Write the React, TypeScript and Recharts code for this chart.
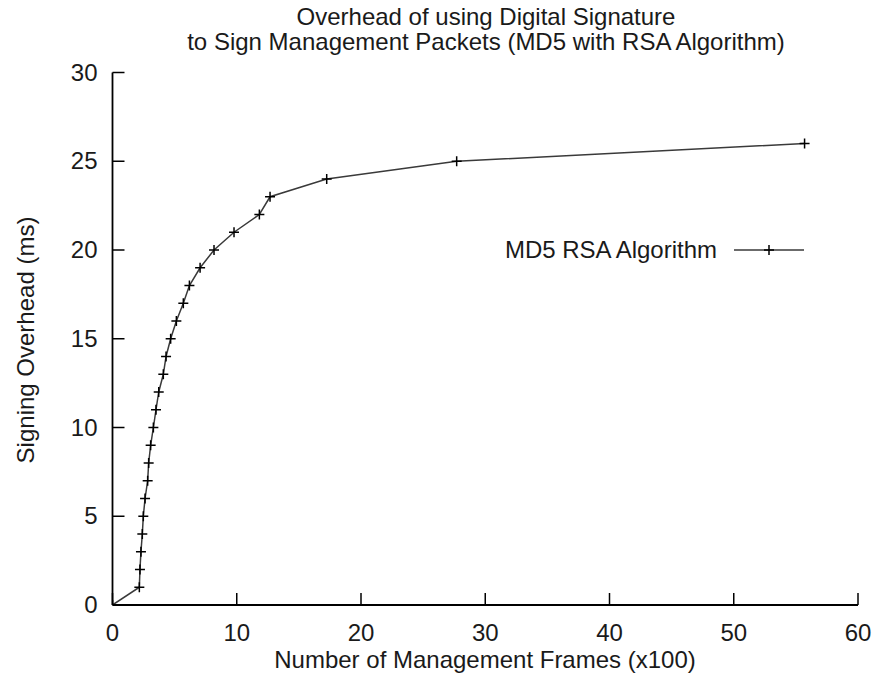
import React from "react";
import { LineChart, Line, XAxis, YAxis } from "recharts";

// Frames (x100) at each signing overhead step, overhead in ms
const frames = [
  0, 2.16, 2.21, 2.29, 2.4, 2.48, 2.62, 2.83, 2.91, 3.07, 3.29, 3.5, 3.72,
  4.09, 4.31, 4.68, 5.14, 5.7, 6.19, 7.05, 8.17, 9.78, 11.82, 12.68, 17.24,
  27.7, 55.7,
];
const overhead = [
  0, 1, 2, 3, 4, 5, 6, 7, 8, 9, 10, 11, 12, 13, 14, 15, 16, 17, 18, 19, 20, 21,
  22, 23, 24, 25, 26,
];
const xTicks = [0, 10, 20, 30, 40, 50, 60];
const yTicks = [0, 5, 10, 15, 20, 25, 30];

const seriesName = "MD5 RSA Algorithm";
const titleLines = [
  "Overhead of using Digital Signature",
  "to Sign Management Packets (MD5 with RSA Algorithm)",
];

const data = frames.map((f, i) => ({ frames: f, overhead: overhead[i] }));

const FONT = "'Liberation Sans', Arial, Helvetica, sans-serif";
const FS = 24;
const TICK = 12;
const INK = "#1a1a1a";

const Plus = (props: any) => {
  const { cx, cy } = props;
  if (cx == null || cy == null) return null;
  return (
    <path
      d={`M${cx - 5},${cy}H${cx + 5}M${cx},${cy - 5}V${cy + 5}`}
      stroke="#000"
      strokeWidth={1.5}
      fill="none"
    />
  );
};

const BottomTick = (props: any) => {
  const { x, y, payload } = props;
  return (
    <g>
      <line x1={x} y1={y} x2={x} y2={y - TICK} stroke="#000" strokeWidth={1.5} />
      <text x={x} y={y + 36} textAnchor="middle" fontSize={FS} fontFamily={FONT} fill={INK}>
        {payload.value}
      </text>
    </g>
  );
};

const LeftTick = (props: any) => {
  const { x, y, payload } = props;
  return (
    <g>
      <line x1={x} y1={y} x2={x + TICK} y2={y} stroke="#000" strokeWidth={1.5} />
      <text x={x - 15} y={y + 8} textAnchor="end" fontSize={FS} fontFamily={FONT} fill={INK}>
        {payload.value}
      </text>
    </g>
  );
};

const TopTick = (props: any) => {
  const { x, y } = props;
  return <line x1={x} y1={y} x2={x} y2={y + TICK} stroke="#000" strokeWidth={1.5} />;
};

const RightTick = (props: any) => {
  const { x, y } = props;
  return <line x1={x} y1={y} x2={x - TICK} y2={y} stroke="#000" strokeWidth={1.5} />;
};

const frame = { stroke: "#000", strokeWidth: 1.8 };

export default function App() {
  return (
    <div style={{ position: "absolute", left: 0, top: 0, width: 876, height: 674, background: "#fff" }}>
      <LineChart
        width={876}
        height={674}
        data={data}
        margin={{ top: 72.5, right: 18, bottom: 29, left: 52.5 }}
      >
        <XAxis
          dataKey="frames"
          type="number"
          domain={[0, 60]}
          ticks={xTicks}
          allowDataOverflow
          height={40}
          tickSize={0}
          tickMargin={0}
          tickLine={false}
          axisLine={frame}
          tick={<BottomTick />}
          interval={0}
        />
        <XAxis
          xAxisId="top"
          orientation="top"
          type="number"
          domain={[0, 60]}
          ticks={xTicks}
          allowDataOverflow
          height={0}
          tickSize={0}
          tickMargin={0}
          tickLine={false}
          axisLine={frame}
          tick={<TopTick />}
          interval={0}
        />
        <YAxis
          type="number"
          domain={[0, 30]}
          ticks={yTicks}
          allowDataOverflow
          width={60}
          tickSize={0}
          tickMargin={0}
          tickLine={false}
          axisLine={frame}
          tick={<LeftTick />}
          interval={0}
        />
        <YAxis
          yAxisId="right"
          orientation="right"
          type="number"
          domain={[0, 30]}
          ticks={yTicks}
          allowDataOverflow
          width={0}
          tickSize={0}
          tickMargin={0}
          tickLine={false}
          axisLine={frame}
          tick={<RightTick />}
          interval={0}
        />
        <Line
          dataKey="overhead"
          name={seriesName}
          type="linear"
          stroke="#3a3a3a"
          strokeWidth={1.5}
          dot={<Plus />}
          activeDot={false}
          isAnimationActive={false}
        />

        {/* title */}
        {titleLines.map((t, i) => (
          <text key={t} x={486} y={25 + i * 25} textAnchor="middle" fontSize={FS} fontFamily={FONT} fill={INK}>
            {t}
          </text>
        ))}

        {/* axis titles */}
        <text x={485} y={668} textAnchor="middle" fontSize={FS} fontFamily={FONT} fill={INK}>
          Number of Management Frames (x100)
        </text>
        <text
          x={0}
          y={0}
          transform="translate(34,340) rotate(-90)"
          textAnchor="middle"
          fontSize={FS}
          fontFamily={FONT}
          fill={INK}
        >
          Signing Overhead (ms)
        </text>

        {/* key */}
        <text x={717} y={258} textAnchor="end" fontSize={FS} fontFamily={FONT} fill={INK}>
          {seriesName}
        </text>
        <line x1={734} y1={250} x2={804} y2={250} stroke="#3a3a3a" strokeWidth={1.5} />
        <path d="M764,250H774M769,245V255" stroke="#000" strokeWidth={1.5} />
      </LineChart>
    </div>
  );
}
